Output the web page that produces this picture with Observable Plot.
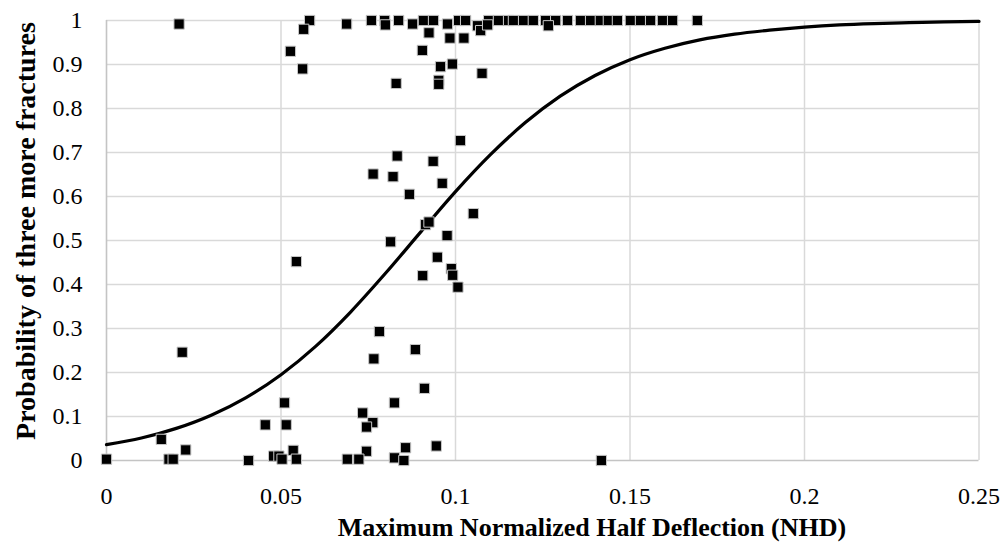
<!DOCTYPE html>
<html>
<head>
<meta charset="utf-8">
<script src="https://cdn.jsdelivr.net/npm/d3@7"></script>
<script src="https://cdn.jsdelivr.net/npm/@observablehq/plot@0.6"></script>
<style>
  html, body { margin: 0; padding: 0; background: #fff; }
  #chart svg { display: block; }
</style>
</head>
<body>
<div id="chart"></div>
<script>
// ---- data ----
const xTicks = [0, 0.05, 0.1, 0.15, 0.2, 0.25];
const xTickLabels = ["0", "0.05", "0.1", "0.15", "0.2", "0.25"];
const yTicks = [0, 0.1, 0.2, 0.3, 0.4, 0.5, 0.6, 0.7, 0.8, 0.9, 1];
const yTickLabels = ["0", "0.1", "0.2", "0.3", "0.4", "0.5", "0.6", "0.7", "0.8", "0.9", "1"];

const xTitle = "Maximum Normalized Half Deflection (NHD)";
const yTitle = "Probability of three more fractures";

// observed points: NHD and probability
const ptsX = [
  0.0582, 0.0759, 0.0797, 0.0837, 0.0908, 0.0937, 0.1009, 0.1029, 0.1095, 0.1123,
  0.1152, 0.1166, 0.1195, 0.1223, 0.1258, 0.1287, 0.1321, 0.1358, 0.1387, 0.1415,
  0.1438, 0.1464, 0.1501, 0.1530, 0.1559, 0.1593, 0.1622, 0.1693,
  0.0208, 0.0688, 0.0877, 0.0799, 0.0977, 0.1063, 0.1072, 0.1092, 0.1266, 0.0565,
  0.0924, 0.0984, 0.1024, 0.0905, 0.0527, 0.0957, 0.0991, 0.0562, 0.1076, 0.0830, 0.0952, 0.0952,
  0.1014, 0.0833, 0.0936, 0.0764, 0.0821, 0.0962, 0.0868, 0.1051, 0.0914, 0.0924, 0.0976, 0.0814,
  0.0544, 0.0948, 0.0906, 0.0988, 0.0992, 0.1007,
  0.0782, 0.0885, 0.0217, 0.0766, 0.0911, 0.0510, 0.0825, 0.0734, 0.0763, 0.0745, 0.0455, 0.0515,
  0.0157, 0.0945, 0.0857, 0.0227, 0.0535, 0.0745,
  0.0000, 0.0179, 0.0191, 0.0407, 0.0479, 0.0494, 0.0503, 0.0544, 0.0690, 0.0723, 0.0825, 0.0852, 0.1418
];
const ptsY = [
  1, 1, 1, 1, 1, 1, 1, 1, 1, 1,
  1, 1, 1, 1, 1, 1, 1, 1, 1, 1,
  1, 1, 1, 1, 1, 1, 1, 1,
  0.992, 0.992, 0.992, 0.990, 0.992, 0.988, 0.977, 0.990, 0.988, 0.980,
  0.972, 0.960, 0.960, 0.932, 0.930, 0.895, 0.901, 0.890, 0.880, 0.857, 0.864, 0.855,
  0.727, 0.692, 0.680, 0.651, 0.645, 0.630, 0.605, 0.561, 0.536, 0.542, 0.511, 0.497,
  0.452, 0.462, 0.420, 0.436, 0.421, 0.394,
  0.293, 0.252, 0.246, 0.231, 0.164, 0.131, 0.131, 0.108, 0.086, 0.076, 0.081, 0.081,
  0.048, 0.033, 0.029, 0.024, 0.023, 0.021,
  0.003, 0.003, 0.003, 0.000, 0.010, 0.010, 0.003, 0.003, 0.003, 0.003, 0.006, 0.000, 0.000
];

// fitted curve
const curveX = [0, 0.01, 0.02, 0.03, 0.04, 0.05, 0.06, 0.07, 0.08, 0.09, 0.10, 0.11, 0.12, 0.13,
  0.14, 0.15, 0.16, 0.17, 0.18, 0.19, 0.20, 0.21, 0.22, 0.23, 0.24, 0.25];
const curveY = [0.036, 0.051, 0.073, 0.103, 0.143, 0.195, 0.260, 0.338, 0.426, 0.519, 0.611, 0.695,
  0.768, 0.828, 0.875, 0.911, 0.937, 0.956, 0.969, 0.978, 0.985, 0.990, 0.993, 0.995, 0.997, 0.998];

// ---- build tables ----
const points = ptsX.map((x, i) => ({x, y: ptsY[i]}));
const curve = curveX.map((x, i) => ({x, y: curveY[i]}));
const xLab = new Map(xTicks.map((t, i) => [t, xTickLabels[i]]));
const yLab = new Map(yTicks.map((t, i) => [t, yTickLabels[i]]));

const W = 1003, H = 545;
const grid = "#d9d9d9";
const serif = "'Liberation Serif', 'Times New Roman', serif";

const chart = Plot.plot({
  width: W,
  height: H,
  marginLeft: 106,
  marginRight: 24.5,
  marginTop: 20,
  marginBottom: 85,
  style: {fontFamily: serif, fontSize: "24px", background: "#fff", color: "#000"},
  x: {domain: [0, 0.25]},
  y: {domain: [0, 1]},
  marks: [
    Plot.gridX(xTicks.slice(1), {stroke: grid, strokeOpacity: 1, strokeWidth: 1.5}),
    Plot.gridY(yTicks.slice(1), {stroke: grid, strokeOpacity: 1, strokeWidth: 1.5}),
    Plot.ruleX([0], {stroke: "#c4c4c4", strokeWidth: 1.6}),
    Plot.ruleY([0], {stroke: "#c4c4c4", strokeWidth: 1.6}),
    Plot.axisX(xTicks, {tickSize: 0, tickPadding: 26, tickFormat: d => xLab.get(d), label: null, fontSize: 24}),
    Plot.axisY(yTicks, {tickSize: 0, tickPadding: 24, tickFormat: d => yLab.get(d), label: null, fontSize: 24}),
    Plot.line(curve, {x: "x", y: "y", stroke: "#000", strokeWidth: 3.2, curve: "monotone-x"}),
    Plot.dot(points, {x: "x", y: "y", symbol: "square", r: 5.8, fill: "#000", stroke: "#c8c8c8", strokeWidth: 1})
  ]
});

const svg = d3.select(chart);
svg.append("text")
  .attr("x", 592).attr("y", 536)
  .attr("text-anchor", "middle")
  .attr("font-weight", "bold")
  .attr("font-size", 26)
  .attr("font-family", serif)
  .attr("fill", "#000")
  .text(xTitle);
svg.append("text")
  .attr("transform", "translate(35,231) rotate(-90)")
  .attr("text-anchor", "middle")
  .attr("font-weight", "bold")
  .attr("font-size", 28)
  .attr("font-family", serif)
  .attr("fill", "#000")
  .text(yTitle);

document.getElementById("chart").appendChild(chart);
</script>
</body>
</html>
